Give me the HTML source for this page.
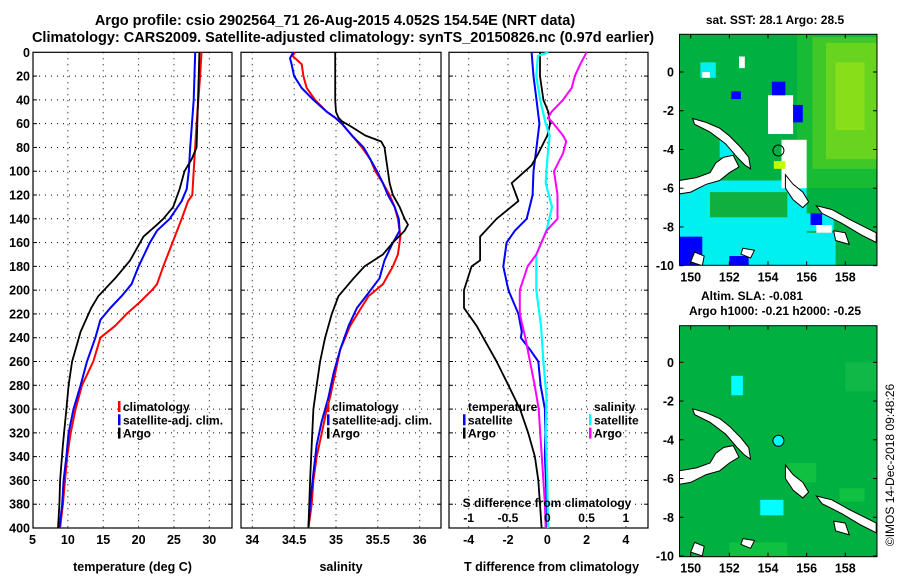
<!DOCTYPE html>
<html><head><meta charset="utf-8"><style>
body{margin:0;background:#fff}
svg{display:block;font-family:"Liberation Sans",sans-serif;font-weight:bold}
</style></head><body>
<svg id="c" width="900" height="580" viewBox="0 0 900 580">
<text x="335" y="25" font-size="14.5" text-anchor="middle">Argo profile: csio 2902564_71 26-Aug-2015 4.052S 154.54E (NRT data)</text>
<text x="343" y="42" font-size="14.5" text-anchor="middle">Climatology: CARS2009. Satellite-adjusted climatology: synTS_20150826.nc (0.97d earlier)</text>
<text x="775" y="24" font-size="12" text-anchor="middle">sat. SST: 28.1 Argo: 28.5</text>
<text x="752" y="300" font-size="12" text-anchor="middle">Altim. SLA: -0.081</text>
<text x="775" y="315" font-size="12" text-anchor="middle">Argo h1000: -0.21 h2000: -0.25</text>
<text transform="translate(894,465) rotate(-90)" font-size="12" font-weight="normal" text-anchor="middle">©IMOS 14-Dec-2018 09:48:26</text>
</svg>
<script>
const depths=[0,20,40,60,80,100,120,140,160,180,200,220,240,260,280,300,320,340,360,380,400];
// Temperature profiles (depth, value)
const tClimD=[0,20,60,100,120,125,140,160,180,195,200,210,220,230,240,260,280,300,320,340,360,380,400];
const tClimV=[28.9,28.7,28.2,27.8,27.6,27.0,26.1,24.8,23.5,22.6,21.9,20.2,18.3,16.7,14.6,13.6,12.0,11.1,10.4,9.9,9.6,9.3,8.9];
const tSatD=[0,40,80,100,115,125,140,150,160,180,195,205,215,225,240,260,280,300,320,340,360,380,400];
const tSatV=[28.0,27.8,27.3,27.1,26.8,26.1,24.4,22.6,21.6,20.0,19.0,17.6,16.0,14.6,13.9,12.7,11.8,10.8,10.1,9.8,9.4,9.2,8.8];
const tArgoD=[0,40,80,90,100,115,130,140,145,155,175,190,205,215,235,260,280,300,330,360,380,400];
const tArgoV=[28.6,28.4,28.2,27.5,26.5,25.8,24.9,23.5,22.6,20.7,18.8,16.7,14.3,13.3,11.8,10.6,10.1,9.8,9.3,8.9,8.8,8.6];
// Salinity profiles
const sClimD=[0,3,10,20,30,40,50,55,60,70,80,90,100,110,120,130,140,150,155,170,180,195,205,215,230,250,270,290,300,320,340,360,380,400];
const sClimV=[34.51,34.48,34.59,34.61,34.65,34.75,34.89,34.99,35.07,35.19,35.31,35.41,35.47,35.56,35.64,35.70,35.74,35.76,35.77,35.74,35.68,35.56,35.39,35.30,35.17,35.05,34.99,34.93,34.89,34.83,34.77,34.73,34.71,34.67];
const sSatD=[0,5,10,20,30,40,50,55,60,70,80,90,100,110,120,130,140,150,160,175,190,205,215,230,250,270,290,310,330,360,380,400];
const sSatV=[34.49,34.45,34.47,34.50,34.59,34.73,34.89,34.99,35.07,35.19,35.33,35.41,35.49,35.56,35.62,35.70,35.75,35.76,35.68,35.58,35.52,35.36,35.25,35.15,35.05,34.97,34.91,34.83,34.77,34.72,34.69,34.67];
const sArgoD=[0,20,40,50,55,58,62,70,75,80,100,110,120,125,130,140,145,150,160,170,180,190,205,220,240,260,280,300,330,360,400];
const sArgoV=[34.99,34.99,34.99,35.00,35.03,35.07,35.17,35.35,35.54,35.58,35.62,35.64,35.68,35.72,35.76,35.82,35.86,35.82,35.68,35.56,35.34,35.21,35.03,34.95,34.87,34.81,34.77,34.73,34.71,34.69,34.67];
// Differences from climatology
const dTSatD=[0,20,40,60,80,100,120,140,150,160,180,200,220,235,240,250,260,280,300,320,340,360,380,400];
const dTSatV=[-0.8,-0.7,-0.55,-0.4,-0.55,-0.7,-0.75,-1.05,-1.65,-2.07,-2.24,-1.98,-1.47,-1.3,-1.35,-0.88,-0.46,-0.34,-0.12,-0.1,-0.12,-0.07,-0.03,-0.03];
const dTArgoD=[0,20,40,50,60,70,85,95,110,125,140,155,175,180,200,215,230,260,280,300,320,340,360,380,400];
const dTArgoV=[-0.37,-0.37,-0.2,0.05,0.14,0,-0.46,-0.8,-1.81,-1.47,-2.58,-3.42,-3.42,-3.85,-4.24,-4.24,-3.6,-2.58,-1.98,-1.39,-0.97,-0.63,-0.46,-0.37,-0.29];
const dSSatD=[0,3,20,40,60,70,90,110,130,150,170,200,230,260,290,320,360,400];
const dSSatV=[0.013,-0.12,-0.14,-0.09,-0.02,0.03,0,-0.02,0.06,-0.01,-0.14,-0.14,-0.08,-0.05,-0.01,-0.02,0,0.01];
const dSArgoD=[0,10,20,30,40,50,55,60,70,75,85,100,120,140,150,170,180,200,220,240,260,280,300,320,340,360,380,400];
const dSArgoV=[0.5,0.42,0.35,0.31,0.2,0.055,0.01,0.08,0.2,0.24,0.2,0.085,0.13,0.13,-0.01,-0.14,-0.25,-0.35,-0.35,-0.28,-0.22,-0.16,-0.11,-0.09,-0.07,-0.05,-0.03,-0.02];
const tTicks=[5,10,15,20,25,30];
const sTicks=[34,34.5,35,35.5,36];
const dTTicks=[-4,-2,0,2,4];
const dSTicks=[-1,-0.5,0,0.5,1];
const latTicks=[0,-2,-4,-6,-8,-10];
const lonTicks=[150,152,154,156,158];

const svg=document.getElementById('c');
const NS='http://www.w3.org/2000/svg';
function mk(tag,attrs,parent){const e=document.createElementNS(NS,tag);for(const k in attrs)e.setAttribute(k,attrs[k]);(parent||svg).appendChild(e);return e;}
const Y0=52.3,Y1=528;
const yD=d=>Y0+d*(Y1-Y0)/400;
function xs(x0,x1,v0,v1){return v=>x0+(v-v0)*(x1-x0)/(v1-v0);}
const xT=xs(32.5,209.3,5,30), xS=xs(252.3,419.7,34,36), xDT=xs(468.7,547.3,-4,0);
const xDS=v=>xDT(v*4);
const panels=[{x0:33,x1:232,name:'temperature-panel',sx:xT,ticks:tTicks,label:'temperature (deg C)'},
 {x0:241,x1:441,name:'salinity-panel',sx:xS,ticks:sTicks,label:'salinity'},
 {x0:449,x1:648,name:'difference-panel',sx:xDT,ticks:dTTicks,label:'T difference from climatology'}];
panels.forEach((p,i)=>{
  const g=mk('g',{});
  
  
  mk('rect',{x:p.x0,y:Y0,width:p.x1-p.x0,height:Y1-Y0,fill:'#fff',stroke:'#000','stroke-width':1.2},g);
  depths.forEach(d=>{if(d>0&&d<400){mk('line',{x1:p.x0,x2:p.x1,y1:yD(d),y2:yD(d),stroke:'#000','stroke-width':1,'stroke-dasharray':'1 5'},g);
    mk('line',{x1:p.x0,x2:p.x0+4,y1:yD(d),y2:yD(d),stroke:'#000'},g);mk('line',{x1:p.x1-4,x2:p.x1,y1:yD(d),y2:yD(d),stroke:'#000'},g);}});
  p.ticks.forEach(t=>{const x=p.sx(t);
    if(x>p.x0+2&&x<p.x1-2)mk('line',{x1:x,x2:x,y1:Y0,y2:Y1,stroke:'#000','stroke-width':1,'stroke-dasharray':'1 5'},g);
    const tx=mk('text',{x:x,y:Y1+16,'font-size':12.5,'text-anchor':'middle'},g);tx.textContent=String(t);
    
    });
  const lab=mk('text',{x:(p.x0+p.x1)/2+(i==2?3:0),y:571,'font-size':12.5,'text-anchor':'middle'},g);lab.textContent=p.label;
  
  
});
depths.forEach(d=>{const t=mk('text',{x:30,y:yD(d)+4.5,'font-size':12.5,'text-anchor':'end'});t.textContent=String(d);
  
  });
function line(D,V,sx,col,w,name){const p=D.map((d,i)=>(i?'L':'M')+sx(V[i]).toFixed(1)+','+yD(d).toFixed(1)).join('');
  const e=mk('path',{d:p,fill:'none',stroke:col,'stroke-width':w,'stroke-linejoin':'round'});
  
  }
line(tClimD,tClimV,xT,'#f00',2,'temperature-climatology-line');
line(tSatD,tSatV,xT,'#00f',2,'temperature-satellite-line');
line(tArgoD,tArgoV,xT,'#000',1.8,'temperature-argo-line');
line(sClimD,sClimV,xS,'#f00',2,'salinity-climatology-line');
line(sSatD,sSatV,xS,'#00f',2,'salinity-satellite-line');
line(sArgoD,sArgoV,xS,'#000',1.8,'salinity-argo-line');
line(dTSatD,dTSatV,xDT,'#00f',2,'t-diff-satellite-line');
line(dTArgoD,dTArgoV,xDT,'#000',1.8,'t-diff-argo-line');
line(dSSatD,dSSatV,xDS,'#0ff',2.2,'s-diff-satellite-line');
line(dSArgoD,dSArgoV,xDS,'#f0f',2,'s-diff-argo-line');
function legend(x,y,items,name){const g=mk('g',{});
  items.forEach((it,i)=>{const yy=y+i*13.3;if(it[1])mk('rect',{x:x,y:yy-10,width:2.5,height:11,fill:it[1]},g);
    const t=mk('text',{x:x+5,y:yy,'font-size':12},g);t.textContent=it[0];
    
    });}
legend(118,411,[['climatology','#f00'],['satellite-adj. clim.','#00f'],['Argo','#000']],'temperature-legend');
legend(327,411,[['climatology','#f00'],['satellite-adj. clim.','#00f'],['Argo','#000']],'salinity-legend');
legend(463,411,[['temperature',null],['satellite','#00f'],['Argo','#000']],'t-diff-legend');
legend(589,411,[['salinity',null],['satellite','#0ff'],['Argo','#f0f']],'s-diff-legend');
{const t=mk('text',{x:547,y:507,'font-size':12,'text-anchor':'middle'});t.textContent='S difference from climatology';
 
 dSTicks.forEach(v=>{const e=mk('text',{x:xDS(v),y:522,'font-size':12,'text-anchor':'middle'});e.textContent=String(v);
 });}

// Maps
function map(top,lat0y,name,kind){
  const X0=679.5,X1=877;const lx=v=>690.7+(v-150)*(845.3-690.7)/8;
  const ly=v=>lat0y+(-v)*19.37;const B=top+231;
  const g=mk('g',{});
  const cp='clip'+kind;const cl=mk('clipPath',{id:cp},g);mk('rect',{x:X0,y:top,width:X1-X0,height:B-top},cl);
  const inner=mk('g',{'clip-path':'url(#'+cp+')'},g);
  mk('rect',{x:X0,y:top,width:X1-X0,height:B-top,fill:'#00b040'},inner);
  const R=(a,b,c,d,f)=>mk('rect',{x:lx(a),y:ly(b),width:lx(c)-lx(a),height:ly(d)-ly(b),fill:f},inner);
  if(kind==='sst'){
    R(155.5,2,159.7,-6,'#18bc34');R(156.3,1.8,159.7,-5,'#40c828');R(157,1.5,159.7,-4.5,'#68d420');R(157.5,0.5,159,-3,'#88de18');
    R(149.4,-5.6,156,-10.1,'#00f0f0');R(151,-6.2,155,-7.5,'#10b040');R(155.3,-7.3,157.4,-8.2,'#00f0f0');
    R(155.5,-8.3,157.5,-10.1,'#00f0f0');R(149.4,-8.5,150.6,-10.1,'#0000ff');R(152,-9.5,153,-10.1,'#0000ff');
    R(154,-1.2,155.3,-3.2,'#fff');R(154.7,-3.5,156,-6,'#fff');R(150.5,0.5,151.3,-0.3,'#00f0f0');R(150.6,0,151,-0.3,'#fff');
    R(154.2,-0.5,154.9,-1.2,'#0000ff');R(152.1,-1,152.6,-1.4,'#0000ff');R(155.3,-1.7,155.8,-2.6,'#0000ff');
    R(156.2,-7.3,156.8,-7.9,'#0000ff');R(156.5,-7.9,157.3,-8.3,'#fff');R(154.3,-4.6,154.9,-5,'#c0ff00');
    R(151.5,-3.5,152.2,-4.4,'#00f0f0');R(152.5,0.8,152.8,0.2,'#fff');
  } else {
    R(152.1,-0.7,152.7,-1.7,'#00ffff');R(153.6,-7.1,154.8,-7.9,'#00ffff');
    R(155,-5.2,156.5,-6.2,'#10c040');R(157.7,-6.5,159,-7.2,'#10c040');R(158,0,159.6,-1.5,'#10b848');R(152,-9.3,155,-10.1,'#10c040');
  }
  const land=[[[149.4,-5.6],[150.3,-5.45],[151,-5.2],[151.3,-4.7],[151.7,-4.4],[152.2,-4.3],[152.5,-4.9],[152,-5.2],[151.5,-5.6],[150.8,-5.8],[150,-6.2],[149.4,-6.3]],
   [[150.1,-2.4],[150.8,-2.6],[151.5,-2.9],[152,-3.3],[152.6,-3.9],[153,-4.4],[153.1,-5],[152.8,-4.8],[152.4,-4.4],[151.8,-3.7],[151,-3.1],[150.2,-2.7]],
   [[154.9,-5.3],[155.3,-5.8],[155.8,-6.2],[156.1,-6.7],[155.8,-7],[155.3,-6.6],[154.9,-6]],
   [[156.5,-6.9],[157.3,-7.1],[158.2,-7.6],[159.2,-8.1],[159.6,-8.3],[159.6,-8.8],[158.8,-8.4],[157.8,-7.8],[156.8,-7.3]],
   [[157.4,-8.2],[158,-8.3],[158.2,-8.9],[157.5,-8.7]],[[152.7,-9.1],[153.3,-9.2],[153.1,-9.6],[152.6,-9.4]],
   [[150.2,-9.3],[150.7,-9.5],[150.6,-10],[150,-9.8]]];
  land.forEach(pl=>{const e=mk('polygon',{points:pl.map(p=>lx(p[0]).toFixed(1)+','+ly(p[1]).toFixed(1)).join(' '),fill:'#fff',stroke:'#000','stroke-width':1},inner);
    });
  const dot=mk('circle',{cx:lx(154.54),cy:ly(-4.052),r:5.5,fill:kind==='sst'?'none':'#00ffff',stroke:'#000','stroke-width':1},g);
  
  mk('rect',{x:X0,y:top,width:X1-X0,height:B-top,fill:'none',stroke:'#000','stroke-width':1},g);
  latTicks.forEach(v=>{const y=ly(v);mk('line',{x1:X0,x2:X0+4,y1:y,y2:y,stroke:'#000'},g);mk('line',{x1:X1-4,x2:X1,y1:y,y2:y,stroke:'#000'},g);
    const t=mk('text',{x:674,y:y+4.5,'font-size':12.5,'text-anchor':'end'},g);t.textContent=String(v);
    });
  lonTicks.forEach(v=>{const x=lx(v);mk('line',{x1:x,x2:x,y1:B-4,y2:B,stroke:'#000'},g);mk('line',{x1:x,x2:x,y1:top,y2:top+4,stroke:'#000'},g);
    const t=mk('text',{x:x,y:B+16,'font-size':12.5,'text-anchor':'middle'},g);t.textContent=String(v);
    });
}
map(34.3,72,'sst-map','sst');
map(325.7,362.3,'sla-map','sla');
</script>
</body></html>
